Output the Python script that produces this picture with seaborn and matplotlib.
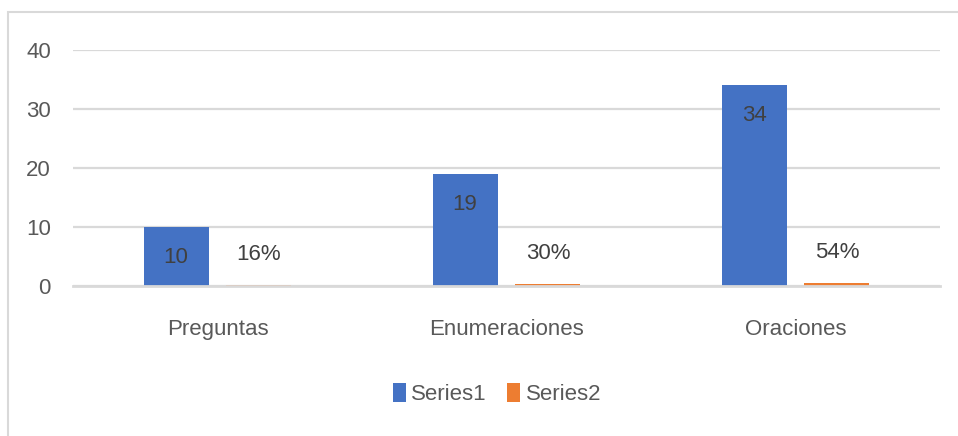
import matplotlib
matplotlib.use("Agg")
import matplotlib.pyplot as plt
import seaborn as sns
import pandas as pd
from matplotlib.patches import Rectangle

categories = ["Preguntas", "Enumeraciones", "Oraciones"]
series1 = [10, 19, 34]
series2 = [0.16, 0.30, 0.54]
series_names = ["Series1", "Series2"]
yticks = [0, 10, 20, 30, 40]

df = pd.DataFrame({
    "cat": categories * 2,
    "val": series1 + series2,
    "series": [series_names[0]] * 3 + [series_names[1]] * 3,
})

sns.set_theme(style="white")
FONT = ["Liberation Sans", "DejaVu Sans"]
plt.rcParams["font.family"] = FONT
TXT = "#595959"
FS = 16

fig = plt.figure(figsize=(9.58, 4.36), dpi=100)
ax = fig.add_axes([73 / 958, 150 / 436, 867 / 958, 236 / 436])

sns.barplot(data=df, x="cat", y="val", hue="series", order=categories,
            hue_order=series_names, palette=["#4472C4", "#ED7D31"],
            width=0.574, gap=0.217, ax=ax, legend=True, saturation=1,
            edgecolor="none", linewidth=0)

ax.set_ylim(0, 40)
ax.set_xlim(-0.5, 2.5)
ax.set_yticks(yticks)
ax.set_yticklabels([str(t) for t in yticks], fontsize=FS, color=TXT)
ax.tick_params(axis="y", length=0, pad=16)
ax.tick_params(axis="x", length=0, pad=24, labelsize=FS, labelcolor=TXT)
ax.set_xlabel("")
ax.set_ylabel("")
ax.grid(axis="y", color="#d9d9d9", linewidth=1.6)
ax.set_axisbelow(True)
for s in ["top", "right", "left"]:
    ax.spines[s].set_visible(False)
ax.spines["bottom"].set_color("#d9d9d9")
ax.spines["bottom"].set_linewidth(2.0)
ax.spines["bottom"].set_zorder(5)

# labels
c1, c2 = ax.containers[0], ax.containers[1]
for p, v in zip(c1, series1):
    x = p.get_x() + p.get_width() / 2
    ax.annotate(str(v), (x, p.get_height()), xytext=(0, -22), textcoords="offset points",
                ha="center", va="center", fontsize=FS, color="#404040")
for p, v in zip(c2, series2):
    x = p.get_x() + p.get_width() / 2
    ax.annotate(f"{round(v*100)}%", (x, p.get_height()), xytext=(0, 22), textcoords="offset points",
                ha="center", va="center", fontsize=FS, color="#404040")

leg = ax.legend(loc="center", bbox_to_anchor=(497 / 958, (436 - 394) / 436),
                bbox_transform=fig.transFigure,
                ncol=2, frameon=False, fontsize=FS, handlelength=0.6, handleheight=0.9,
                handletextpad=0.25, columnspacing=0.9)
for t in leg.get_texts():
    t.set_color(TXT)

fig.patches.append(Rectangle((8 / 958, -0.05), 1.1, (436 - 12) / 436 + 0.05,
                             transform=fig.transFigure, fill=False,
                             edgecolor="#d9d9d9", linewidth=1.5))

fig.savefig("out.png", dpi=100)
